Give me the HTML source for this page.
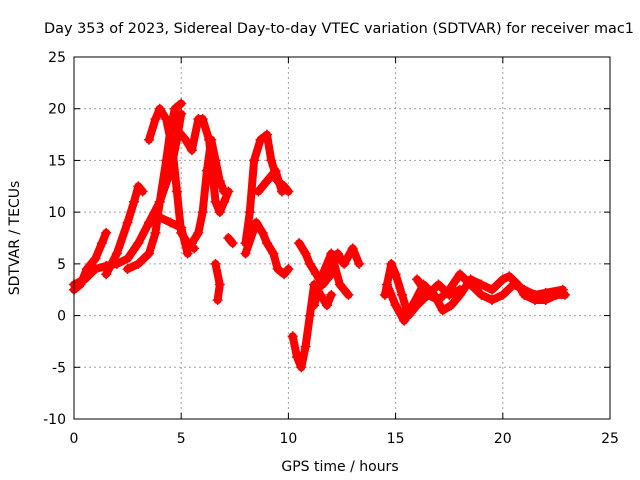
<!DOCTYPE html>
<html><head><meta charset="utf-8"><style>
body{margin:0;background:#fff}
svg{display:block;font-family:"DejaVu Sans","Liberation Sans",sans-serif}
</style></head><body>
<svg id="chart" width="640" height="480" viewBox="0 0 640 480">
<rect width="640" height="480" fill="#fff"/>
<text x="44" y="33" font-size="14" textLength="590" lengthAdjust="spacingAndGlyphs">Day 353 of 2023, Sidereal Day-to-day VTEC variation (SDTVAR) for receiver mac1</text>
<g id="grid"></g>
<g id="series"></g>
<rect x="74" y="57" width="536" height="362" fill="none" stroke="#000" stroke-width="1"/>
<g id="ticks"></g>
<text x="340" y="471" font-size="14" text-anchor="middle">GPS time / hours</text>
<text transform="translate(19,238) rotate(-90)" font-size="14" text-anchor="middle">SDTVAR / TECUs</text>
</svg>
<script>
const xTicks=[0,5,10,15,20,25];
const yTicks=[-10,-5,0,5,10,15,20,25];
const track1=[[0,2.5],[0.3,3],[0.6,4.5],[1,5.5],[1.3,7],[1.5,8]];
const track2=[[0,3],[0.5,3.5],[1,4.5],[1.5,4.8],[2,5],[2.5,5.5],[3,7],[3.5,9],[4,11],[4.5,14],[4.8,17],[5,19.5]];
const track3=[[1.5,4],[2,6],[2.5,9],[2.8,11],[3,12.5],[3.2,12]];
const track4=[[2.5,4.5],[3,5],[3.5,6],[3.8,8],[4,11],[4.3,15],[4.5,18],[4.7,20],[5,20.5]];
const track5=[[3.5,17],[3.8,19],[4,20],[4.3,19],[4.6,16],[4.8,12],[5,8],[5.3,7],[5.6,6.5]];
const track6=[[5.5,7],[5.8,8],[6,10],[6.2,14],[6.4,17],[6.6,15],[6.8,13],[7,12]];
const track7=[[4.8,18],[5.2,17],[5.5,16],[5.8,19],[6,19],[6.3,17],[6.6,11],[6.8,10],[7,11],[7.2,12]];
const track8=[[3.6,9],[4,9.5],[4.5,9],[5,8.5],[5.3,6]];
const track9=[[6.6,5],[6.8,3],[6.7,1.5]];
const track10=[[7.2,7.5],[7.4,7]];
const track11=[[8,7],[8.2,10],[8.4,15],[8.7,17],[9,17.5],[9.2,15],[9.5,13],[9.8,12.5],[10,12]];
const track12=[[8,6],[8.5,9],[8.8,8],[9,7],[9.3,6],[9.5,4.5],[9.8,4],[10,4.5]];
const track13=[[8.6,12],[9,13],[9.4,14],[9.7,12]];
const track14=[[10.2,-2],[10.4,-4],[10.6,-5],[10.8,-3],[11,0],[11.2,3],[11.5,2],[11.8,1],[12,2]];
const track15=[[10.5,7],[10.8,6],[11,5],[11.3,4],[11.6,3],[12,4],[12.3,6],[12.6,5],[13,6.5],[13.3,5]];
const track16=[[11.2,1],[11.6,4],[12,6],[12.4,3],[12.8,2]];
const track17=[[14.5,2],[14.8,5],[15,4],[15.3,2],[15.6,0],[16,1],[16.5,2],[17,3],[17.5,2],[18,2.5]];
const track18=[[14.6,3],[15,1],[15.4,-0.5],[15.8,1],[16.3,3],[16.8,2],[17.2,0.5],[17.6,1],[18,2],[18.5,3.5],[19,3],[19.5,2.5],[20,3.5],[20.3,3.8],[20.7,3],[21,2],[21.5,1.5],[22,1.5],[22.5,2],[22.9,2]];
const track19=[[16,3.5],[16.5,2],[17,1.5],[17.5,2.5],[18,4],[18.5,3],[19,2],[19.5,1.5],[20,2],[20.5,3],[21,2.5],[21.5,2],[22,2.2],[22.8,2.5]];
const tracks=[track1,track2,track3,track4,track5,track6,track7,track8,track9,track10,track11,track12,track13,track14,track15,track16,track17,track18,track19];

const NS="http://www.w3.org/2000/svg";
const X=v=>74+(v-0)*536/25;
const Y=v=>419-(v+10)*362/35;
function mk(t,p,a){const e=document.createElementNS(NS,t);for(const k in a)e.setAttribute(k,a[k]);p.appendChild(e);return e;}
const grid=document.getElementById('grid'),ticks=document.getElementById('ticks'),series=document.getElementById('series');
xTicks.forEach(v=>{
  if(v>0&&v<25){const l=mk('line',grid,{x1:X(v),x2:X(v),y1:57,y2:419,stroke:'#a0a0a0','stroke-dasharray':'2,3'});
  
  }
  mk('line',ticks,{x1:X(v),x2:X(v),y1:419,y2:413,stroke:'#000'});
  mk('line',ticks,{x1:X(v),x2:X(v),y1:57,y2:63,stroke:'#000'});
  const t=mk('text',ticks,{x:X(v),y:443,'font-size':14,'text-anchor':'middle'});t.textContent=v;
  
  
});
yTicks.forEach(v=>{
  if(v>-10&&v<25){const l=mk('line',grid,{x1:74,x2:610,y1:Y(v),y2:Y(v),stroke:'#a0a0a0','stroke-dasharray':'2,3'});
  
  }
  mk('line',ticks,{x1:74,x2:80,y1:Y(v),y2:Y(v),stroke:'#000'});
  mk('line',ticks,{x1:610,x2:604,y1:Y(v),y2:Y(v),stroke:'#000'});
  const t=mk('text',ticks,{x:66,y:Y(v)+5,'font-size':14,'text-anchor':'end'});t.textContent=v;
  
  
});
tracks.forEach(tr=>{
  const pl=mk('polyline',series,{points:tr.map(p=>X(p[0])+','+Y(p[1])).join(' '),fill:'none',stroke:'#ff0000','stroke-width':8,'stroke-linejoin':'round','stroke-linecap':'round'});
  
  
  tr.forEach(p=>{
    const x=X(p[0]),y=Y(p[1]);
    const m=mk('path',series,{d:`M${x-5},${y}H${x+5}M${x},${y-5}V${y+5}`,stroke:'#ff0000','stroke-width':1.5});
    
    
  });
});
</script>
</body></html>
